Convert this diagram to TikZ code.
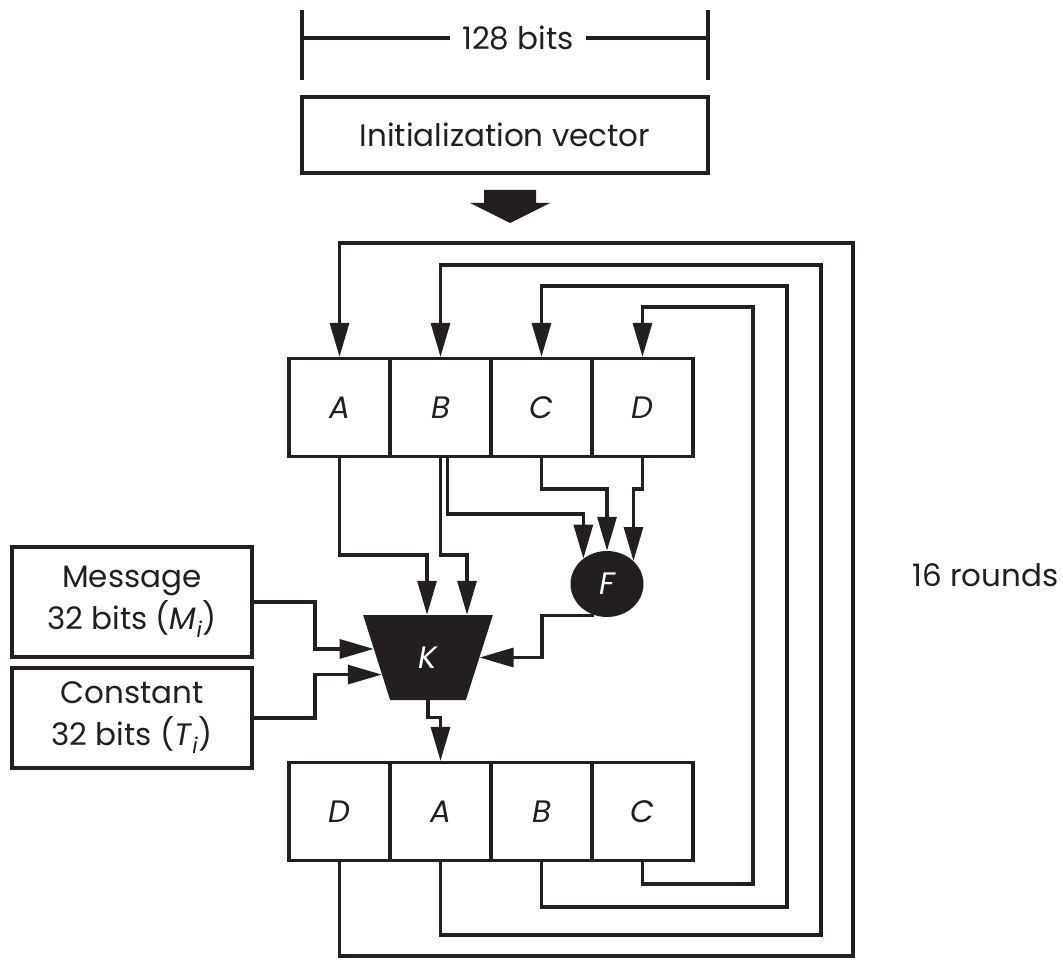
\documentclass[tikz,border=0pt]{standalone}
\usepackage{fontspec}
\setmainfont{Poppins}
\usepackage{xcolor}
\usepackage{tikz}
\usetikzlibrary{positioning,arrows.meta,calc,shapes.geometric}
\definecolor{ink}{HTML}{231F20}
\tikzset{
  wire/.style={draw=ink, line width=3.2pt},
  arr/.style={wire, -{Triangle[length=34pt,width=19pt]}},
  lbl/.style={font=\fontsize{31}{40}\selectfont, text=ink},
  cellbox/.style={draw=ink, line width=3.2pt, minimum width=101pt, minimum height=98pt, inner sep=0pt, font=\fontsize{31}{40}\selectfont\itshape, text=ink},
  infobox/.style={draw=ink, line width=3.2pt, align=center, inner sep=0pt, font=\fontsize{31}{42}\selectfont, text=ink},
  kbox/.style={trapezium, trapezium left angle=107, trapezium right angle=107, trapezium stretches=true, minimum width=130pt, minimum height=85pt, fill=ink, text=white, inner sep=0pt, font=\fontsize{31}{40}\selectfont\itshape},
  fbox/.style={ellipse, minimum width=73pt, minimum height=66pt, fill=ink, text=white, inner sep=0pt, font=\fontsize{31}{40}\selectfont\itshape}
}
\newcommand{\regcell}[4]{%
 \node[cellbox] (#3) at (#1,#2) {#4};}

\begin{document}
\begin{tikzpicture}[x=1pt,y=-1pt]
\useasboundingbox (0,0) rectangle (1063,960);
% width marker and IV
\coordinate (dimL) at (302,38);
\coordinate (dimR) at (708,38);
\draw[wire] (302,10) -- (302,80);
\draw[wire] (708,10) -- (708,80);
\node[lbl, inner xsep=12pt] (dim) at (518,38) {128 bits};
\draw[wire] (dimL) -- (dim.west);
\draw[wire] (dim.east) -- (dimR);
\node[infobox, minimum width=406pt, minimum height=76pt] (iv) at (505,135) {Initialization vector};
\coordinate (ivtip) at (510,223);
\fill[ink] (ivtip) -- ++(-40,-20) -- ++(14,0) -- ++(0,-13) -- ++(52,0) -- ++(0,13) -- ++(14,0) -- cycle;
% registers
\regcell{339.5}{407.5}{topA}{A}
\regcell{440.5}{407.5}{topB}{B}
\regcell{541.5}{407.5}{topC}{C}
\regcell{642.5}{407.5}{topD}{D}
\regcell{339.5}{811.5}{botD}{D}
\regcell{440.5}{811.5}{botA}{A}
\regcell{541.5}{811.5}{botB}{B}
\regcell{642.5}{811.5}{botC}{C}
% inputs
\node[infobox, minimum width=240pt, minimum height=110pt] (msg) at (132,602) {Message\\32 bits (\textit{M}\textsubscript{\textit{i}})};
\node[infobox, minimum width=240pt, minimum height=100pt] (cst) at (132,718) {Constant\\32 bits (\textit{T}\textsubscript{\textit{i}})};
\node[kbox] (k) at (428,657.5) {K};
\node[fbox] (f) at (607,584) {F};
\node[lbl, anchor=east] (rounds) at (1062,575) {16 rounds};
\coordinate (kin1) at ($(k.top left corner)!0.4!(k.bottom left corner)$);
\coordinate (kin2) at ($(k.top left corner)!0.7!(k.bottom left corner)$);
% round logic
\draw[arr] (topA.south) |- (427,555) -- (427,0 |- k.north);
\draw[arr] (topB.south) |- (467,555) -- (467,0 |- k.north);
\draw[arr] ([xshift=7pt]topB.south) |- (f.133 |- 0,514) -- (f.133);
\draw[arr] (topC.south) |- (f.north |- 0,489) -- (f.north);
\draw[arr] (topD.south) |- (f.41 |- 0,489) -- (f.41);
\draw[arr] (f.248) -| (542,0 |- k.east) -- (k.east);
\draw[arr] (msg.east) -| (315,0 |- kin1) -- (kin1);
\draw[arr] (cst.east) -| (315,0 |- kin2) -- (kin2);
\draw[arr] (k.south) -- ++(0,17) -| (botA.north);
% feedback to next round
\draw[arr] (botD.south) |- (853,956) |- (topA.north |- 0,243) -- (topA.north);
\draw[arr] (botA.south) |- (821,935) |- (topB.north |- 0,265) -- (topB.north);
\draw[arr] (botB.south) |- (787,907) |- (topC.north |- 0,286) -- (topC.north);
\draw[arr] (botC.south) |- (753,884) |- (topD.north |- 0,307) -- (topD.north);
\end{tikzpicture}
\end{document}
